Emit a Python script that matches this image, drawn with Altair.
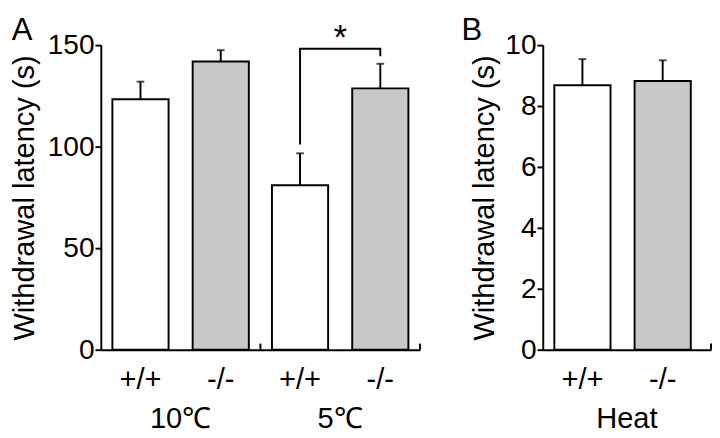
import altair as alt
import pandas as pd

# ---------------- data ----------------
genotype_order = ["+/+", "-/-"]

# Panel A (cold)
groups_a = ["10℃", "10℃", "5℃", "5℃"]
genotypes_a = ["+/+", "-/-", "+/+", "-/-"]
means_a = [123.3, 141.9, 81.0, 128.7]
upper_a = [132.0, 147.5, 96.7, 140.8]
group_order_a = ["10℃", "5℃"]
yticks_a = [0, 50, 100, 150]

# significance bracket in panel A (5℃ group)
bracket_genotype = ["+/+", "+/+", "-/-", "-/-"]
bracket_y = [101.0, 148.2, 148.2, 144.5]
bracket_order = [0, 1, 2, 3]
star_y = 148.0

# Panel B (heat)
groups_b = ["Heat", "Heat"]
genotypes_b = ["+/+", "-/-"]
means_b = [8.68, 8.82]
upper_b = [9.54, 9.50]
group_order_b = ["Heat"]
yticks_b = [0, 2, 4, 6, 8, 10]

FONT = "Liberation Sans"
FS = 30

fill_scale = alt.Scale(domain=genotype_order, range=["#ffffff", "#c8c8c8"])


def panel(groups, genos, means, uppers, group_order, ymax, yticks, w, h,
          xo_pi, xo_po, tick_units, title_pad, letter, letter_x, extra=None):
    df = pd.DataFrame({"group": groups, "genotype": genos,
                       "mean": means, "upper": uppers})
    xaxis = alt.Axis(title=None, labelAngle=0, ticks=False, tickSize=0,
                     labelPadding=80, labelBaseline="alphabetic",
                     labelFontSize=FS, domainWidth=2, domainColor="black")
    yaxis = alt.Axis(values=yticks, title="Withdrawal latency (s)",
                     titlePadding=title_pad, labelPadding=1, tickSize=6,
                     tickWidth=2, domainWidth=2, grid=False,
                     labelFontSize=FS - 1, titleFontSize=FS)
    xs = alt.Scale(domain=group_order, paddingInner=0, paddingOuter=0)
    ys = alt.Scale(domain=[0, ymax], nice=False, zero=True)
    xos = alt.Scale(domain=genotype_order, paddingInner=xo_pi, paddingOuter=xo_po)

    X = alt.X("group:N", scale=xs, axis=xaxis, sort=group_order)
    XO = alt.XOffset("genotype:N", scale=xos, sort=genotype_order)

    base = alt.Chart(df)
    bars = base.mark_bar(stroke="black", strokeWidth=2).encode(
        x=X, xOffset=XO,
        y=alt.Y("mean:Q", scale=ys, axis=yaxis),
        fill=alt.Fill("genotype:N", scale=fill_scale, legend=None),
    )
    err = base.mark_rule(color="black", strokeWidth=2).encode(
        x=X, xOffset=XO,
        y=alt.Y("mean:Q", scale=ys, axis=yaxis), y2="upper:Q",
    )
    cap = base.mark_tick(color="black", size=8, thickness=2,
                         orient="horizontal").encode(
        x=X, xOffset=XO,
        y=alt.Y("upper:Q", scale=ys, axis=yaxis),
    )
    glabels = base.mark_text(font=FONT, fontSize=FS, dy=41,
                             baseline="alphabetic", color="black").encode(
        x=X, xOffset=XO, y=alt.datum(0), text="genotype:N",
    )
    sep = alt.Chart(pd.DataFrame({"group": group_order})).mark_rule(
        color="black", strokeWidth=2).encode(
        x=alt.X("group:N", scale=xs, axis=xaxis, sort=group_order, bandPosition=1),
        y=alt.datum(0), y2=alt.datum(tick_units),
    )
    lett = alt.Chart(pd.DataFrame({"t": [letter]})).mark_text(
        font=FONT, fontSize=32, align="left", baseline="alphabetic",
        color="black").encode(
        x=alt.value(letter_x), y=alt.value(-5), text="t:N")

    layers = [bars, err, cap, glabels, sep, lett]
    if extra is not None:
        layers += extra(X, XO, xs, ys, xaxis, yaxis)
    return alt.layer(*layers).properties(width=w, height=h)


def extras_a(X, XO, xs, ys, xaxis, yaxis):
    bdf = pd.DataFrame({"group": ["5℃"] * 4, "genotype": bracket_genotype,
                        "y": bracket_y, "o": bracket_order})
    bracket = alt.Chart(bdf).mark_line(color="black", strokeWidth=2).encode(
        x=X, xOffset=XO,
        y=alt.Y("y:Q", scale=ys, axis=yaxis),
        order="o:Q",
    )
    star = alt.Chart(pd.DataFrame({"group": ["5℃"], "t": ["*"], "y": [star_y]})).mark_text(
        font=FONT, fontSize=36, baseline="alphabetic", color="black").encode(
        x=X, y=alt.Y("y:Q", scale=ys, axis=yaxis), text="t:N")
    return [bracket, star]


chart_a = panel(groups_a, genotypes_a, means_a, upper_a, group_order_a, 150,
                yticks_a, 330, 315, 0.30, 0.144, 3, 8, "A", -92, extras_a)
chart_b = panel(groups_b, genotypes_b, means_b, upper_b, group_order_b, 10,
                yticks_b, 174, 315, 0.266, 0.234, 0.2, 6, "B", -84)

chart = alt.hconcat(chart_a, chart_b, spacing=42).properties(
    padding={"left": 2, "top": 0, "right": 0, "bottom": 0}
).configure_view(stroke=None).configure_axis(
    labelFont=FONT, titleFont=FONT, labelColor="black", titleColor="black",
    titleFontWeight="normal", domainColor="black", tickColor="black", grid=False,
).configure_text(font=FONT)

chart.save("out.html", embed_options={"renderer": "svg", "actions": False})
